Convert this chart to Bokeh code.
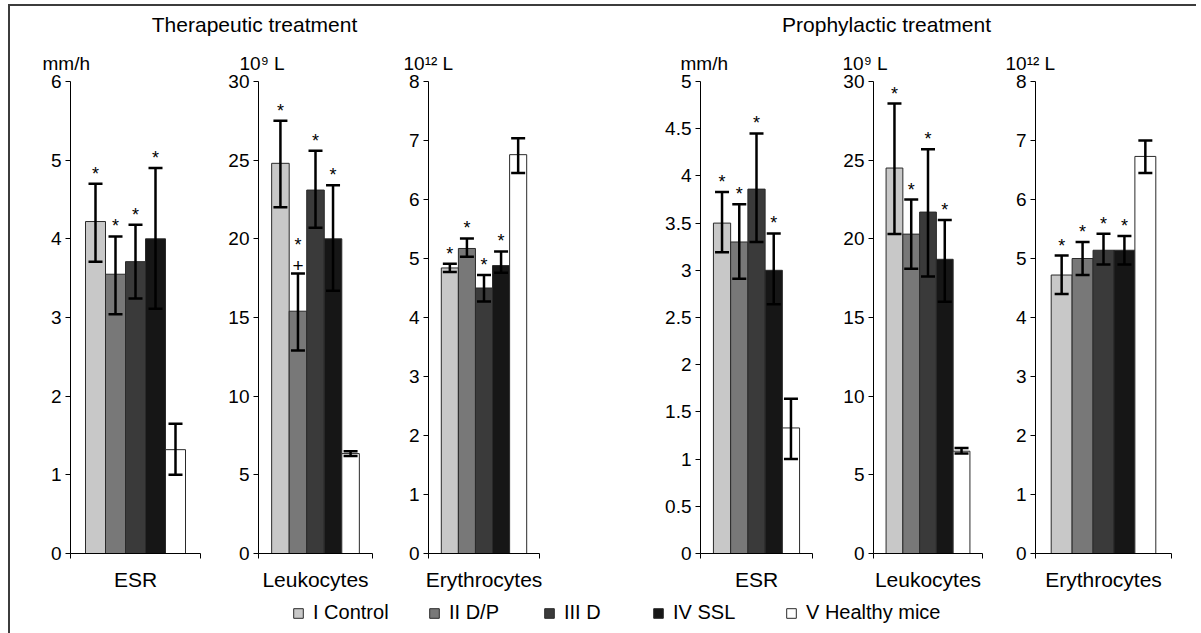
from bokeh.plotting import figure
from bokeh.layouts import column, row
from bokeh.models import (Range1d, FixedTicker, NumeralTickFormatter, ColumnDataSource,
                          Whisker, TeeHead, Legend, LegendItem)
from bokeh.core.properties import value
from bokeh.embed import file_html
from bokeh.resources import INLINE

FONT = "Liberation Sans"

# ---------------- data ----------------
groups = ["I Control", "II D/P", "III D", "IV SSL", "V Healthy mice"]
colors = ["#c8c8c8", "#787878", "#3a3a3a", "#161616", "#ffffff"]
treatments = ["Therapeutic treatment", "Prophylactic treatment"]
indicators = ["ESR", "Leukocytes", "Erythrocytes"]
units = ["mm/h", "10\u2079  L", "10\u00b9\u00b2 L"]

esr_ticks = [0, 1, 2, 3, 4, 5, 6]
leuk_ticks = [0, 5, 10, 15, 20, 25, 30]
eryth_ticks = [0, 1, 2, 3, 4, 5, 6, 7, 8]
esr_pro_ticks = [0, 0.5, 1, 1.5, 2, 2.5, 3, 3.5, 4, 4.5, 5]

# Therapeutic treatment
ther_esr = [4.22, 3.55, 3.71, 4.00, 1.32]
ther_esr_lo = [3.71, 3.04, 3.24, 3.11, 1.00]
ther_esr_hi = [4.70, 4.03, 4.18, 4.90, 1.65]

ther_leuk = [24.8, 15.4, 23.1, 20.0, 6.35]
ther_leuk_lo = [22.0, 12.9, 20.7, 16.7, 6.2]
ther_leuk_hi = [27.5, 17.8, 25.6, 23.4, 6.5]

ther_eryth = [4.84, 5.17, 4.50, 4.88, 6.76]
ther_eryth_lo = [4.77, 5.03, 4.27, 4.76, 6.45]
ther_eryth_hi = [4.91, 5.34, 4.72, 5.12, 7.04]

# Prophylactic treatment
pro_esr = [3.50, 3.30, 3.86, 3.00, 1.33]
pro_esr_lo = [3.19, 2.91, 3.30, 2.64, 1.00]
pro_esr_hi = [3.83, 3.70, 4.45, 3.39, 1.64]

pro_leuk = [24.5, 20.3, 21.7, 18.7, 6.5]
pro_leuk_lo = [20.3, 18.1, 17.6, 16.0, 6.35]
pro_leuk_hi = [28.6, 22.5, 25.7, 21.2, 6.7]

pro_eryth = [4.72, 5.00, 5.14, 5.14, 6.73]
pro_eryth_lo = [4.40, 4.72, 4.90, 4.90, 6.45]
pro_eryth_hi = [5.05, 5.28, 5.42, 5.38, 7.00]

# significance marks
marks_main = ["*", "*", "*", "*", ""]
ther_leuk_plus = ["", "+", "", "", ""]
no_plus = ["", "", "", "", ""]

panels_data = [
    (indicators[0], units[0], esr_ticks, ther_esr, ther_esr_lo, ther_esr_hi, no_plus),
    (indicators[1], units[1], leuk_ticks, ther_leuk, ther_leuk_lo, ther_leuk_hi, ther_leuk_plus),
    (indicators[2], units[2], eryth_ticks, ther_eryth, ther_eryth_lo, ther_eryth_hi, no_plus),
    (indicators[0], units[0], esr_pro_ticks, pro_esr, pro_esr_lo, pro_esr_hi, no_plus),
    (indicators[1], units[1], leuk_ticks, pro_leuk, pro_leuk_lo, pro_leuk_hi, no_plus),
    (indicators[2], units[2], eryth_ticks, pro_eryth, pro_eryth_lo, pro_eryth_hi, no_plus),
]

# ---------------- layout ----------------
fig_w = [215, 175, 240, 200, 160, 196]
bord_l = [60, 32, 28, 60, 32, 35]
bord_r = [25, 28, 101, 28, 18, 25]
unit_off = [-28, -19, -25, -20, -31, -30]
PANEL_H = 552
TOTAL_W = sum(fig_w)
XR = (-1.25, 5.25)


def make_panel(k, name, unit, ticks, mean, lo, hi, plus):
    p = figure(width=fig_w[k], height=PANEL_H, output_backend="svg", toolbar_location=None,
               x_range=Range1d(*XR), y_range=Range1d(0, ticks[-1]),
               min_border_left=bord_l[k], min_border_right=bord_r[k],
               min_border_top=40, min_border_bottom=40)
    p.outline_line_color = None
    p.grid.visible = False
    p.background_fill_color = None
    p.border_fill_color = None

    star_off = [-18 if s else 0 for s in plus]
    src = ColumnDataSource(dict(x=list(range(len(groups))), top=mean, lo=lo, hi=hi,
                                color=colors, mark=marks_main, plus=plus, soff=star_off))
    p.vbar(x="x", top="top", width=1, fill_color="color", line_color="#2a2a2a",
           line_width=1, source=src)
    wh = Whisker(base="x", upper="hi", lower="lo", source=src, line_width=2.5,
                 line_color="black", level="overlay",
                 upper_head=TeeHead(size=14, line_width=2.5, line_color="black"),
                 lower_head=TeeHead(size=14, line_width=2.5, line_color="black"))
    p.add_layout(wh)
    p.text(x="x", y="hi", text="mark", source=src, y_offset="soff",
           text_align="center", text_baseline="bottom",
           text_font=value(FONT), text_font_size="18px", text_color="black")
    p.text(x="x", y="hi", text="plus", source=src, y_offset=-1,
           text_align="center", text_baseline="bottom",
           text_font=value(FONT), text_font_size="19px", text_color="#000000")

    # unit label
    p.title.text = unit
    p.title.align = "left"
    p.title.offset = unit_off[k]
    p.title.text_font = FONT
    p.title.text_font_size = "19px"
    p.title.text_font_style = "normal"
    p.title.text_color = "black"
    p.title.standoff = 15

    # x axis
    xa = p.xaxis[0]
    xa.ticker = FixedTicker(ticks=[2], minor_ticks=[XR[0] + 0.001, XR[1] - 0.001])
    xa.major_label_overrides = {2: name}
    xa.major_tick_in = 0
    xa.major_tick_out = 0
    xa.minor_tick_in = 0
    xa.minor_tick_out = 5
    xa.minor_tick_line_color = "black"
    xa.axis_line_color = "black"
    xa.major_label_text_font = FONT
    xa.major_label_text_font_size = "21px"
    xa.major_label_text_color = "black"
    xa.major_label_standoff = 9

    # y axis
    ya = p.yaxis[0]
    ya.ticker = FixedTicker(ticks=ticks)
    ya.formatter = NumeralTickFormatter(format="0.[0]")
    ya.major_tick_in = 0
    ya.major_tick_out = 5
    ya.minor_tick_line_color = None
    ya.axis_line_color = "black"
    ya.major_tick_line_color = "black"
    ya.major_label_text_font = FONT
    ya.major_label_text_font_size = "19px"
    ya.major_label_text_color = "black"
    ya.major_label_standoff = 4
    return p


panels = [make_panel(k, *d) for k, d in enumerate(panels_data)]

# header with treatment titles
HEAD_H = 35
head = figure(width=TOTAL_W, height=HEAD_H, output_backend="svg", toolbar_location=None,
              x_range=Range1d(0, TOTAL_W), y_range=Range1d(0, HEAD_H), min_border=0,
              x_axis_location=None, y_axis_location=None)
head.outline_line_color = None
head.grid.visible = False
title_x = [244, 876]
head.text(x=title_x, y=[17, 17], text=treatments, text_align="center", text_baseline="middle",
          text_font=value(FONT), text_font_size="21px", text_color="black")

# legend strip
LEG_H = 40
lg = figure(width=TOTAL_W, height=LEG_H, output_backend="svg", toolbar_location=None,
            x_range=Range1d(100, 101), y_range=Range1d(0, 1), min_border=0,
            x_axis_location=None, y_axis_location=None)
lg.outline_line_color = None
lg.grid.visible = False
lsrc = ColumnDataSource(dict(x=list(range(len(groups))), top=[0] * len(groups), color=colors))
lr = lg.vbar(x="x", top="top", width=1, fill_color="color", line_color="#2a2a2a",
             line_width=1, source=lsrc)
legend_x = [282, 418, 533, 642, 775]
for k, g in enumerate(groups):
    leg = Legend(items=[LegendItem(label=g, renderers=[lr], index=k)],
                 orientation="horizontal", location=(legend_x[k], 9),
                 glyph_width=12, glyph_height=12, label_standoff=9,
                 label_text_font=FONT, label_text_font_size="20px", label_text_color="black",
                 border_line_color=None, background_fill_alpha=0, padding=0, margin=0)
    lg.add_layout(leg)

root = column(head, row(*panels), lg,
              styles={"margin-left": "8px", "margin-top": "4px",
                      "border-top": "2px solid #3c3c3c", "border-left": "2px solid #3c3c3c"})

open("out.html", "w").write(file_html(root, INLINE))
